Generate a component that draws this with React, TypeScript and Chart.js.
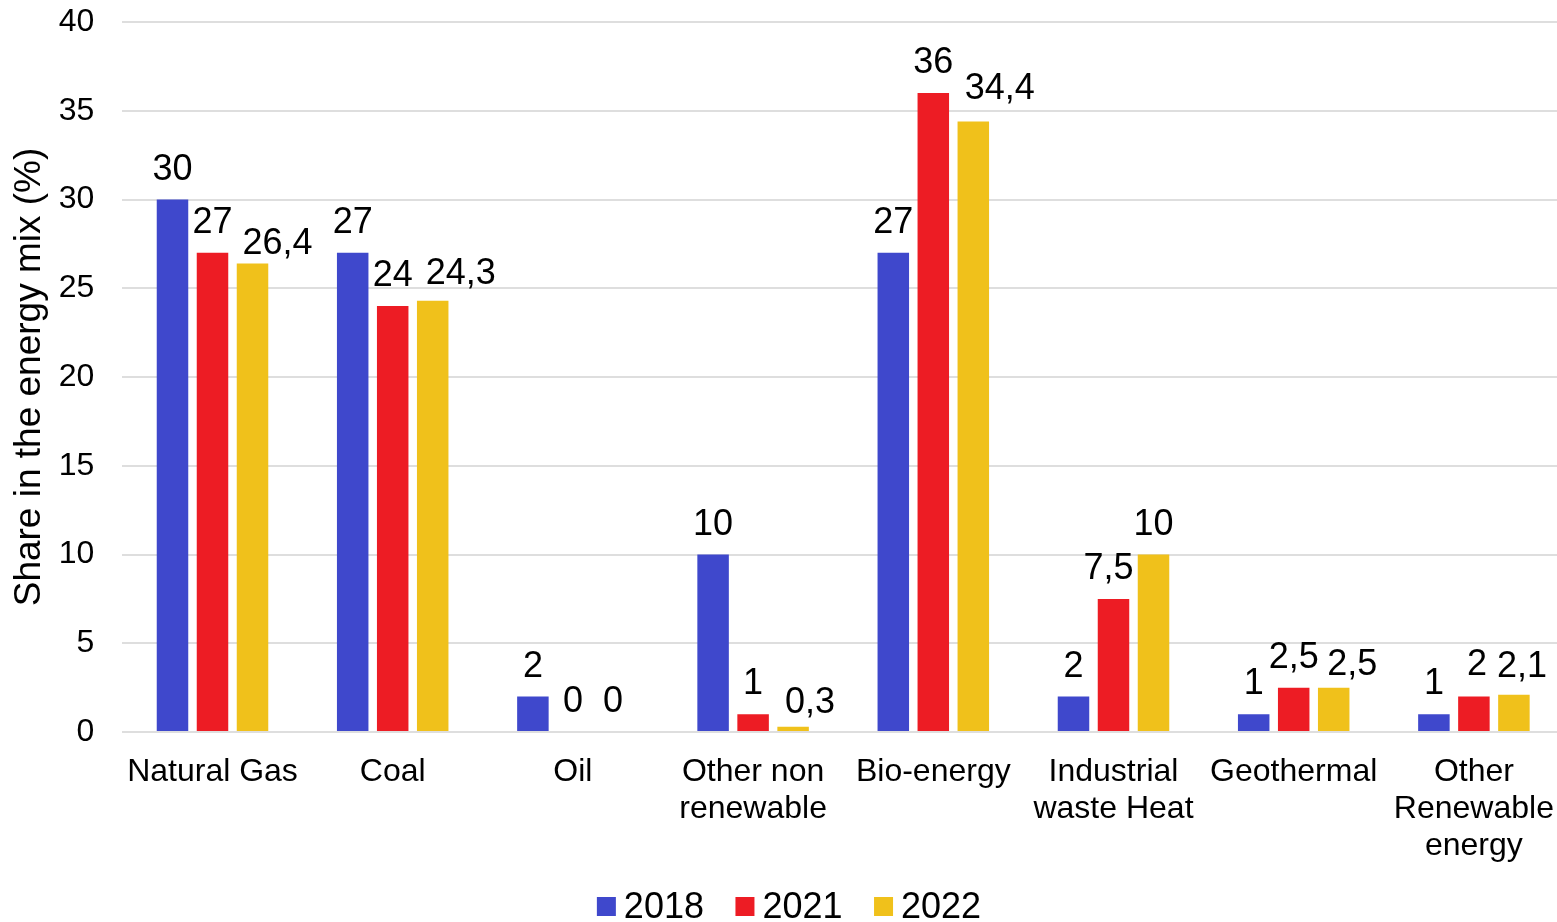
import { useEffect, useRef } from 'react';
import { Chart, registerables } from 'chart.js';

Chart.register(...registerables);

// Energy sources on the category axis (arrays break into several lines)
const categories: (string | string[])[] = [
  'Natural Gas',
  'Coal',
  'Oil',
  ['Other non', 'renewable'],
  'Bio-energy',
  ['Industrial', 'waste Heat'],
  'Geothermal',
  ['Other', 'Renewable', 'energy'],
];

const years = ['2018', '2021', '2022'];

// Share in the energy mix (%)
const share2018 = [30, 27, 2, 10, 27, 2, 1, 1];
const share2021 = [27, 24, 0, 1, 36, 7.5, 2.5, 2];
const share2022 = [26.4, 24.3, 0, 0.3, 34.4, 10, 2.5, 2.1];

const yMin = 0;
const yMax = 40;
const yStep = 5;

const seriesColors = ['#3F48CC', '#ED1C24', '#F0C11B'];

// Hand placement of individual value labels: [dx, dy] in pixels
const labelShift2018: [number, number][] = [
  [0, 0], [0, 0], [0, 0], [0, 0], [0, 0], [0, 0], [0, 0], [0, 0],
];
const labelShift2021: [number, number][] = [
  [0, 0], [0, 0], [0, 0], [0, 0], [0, 0], [-5, 0], [0, 0], [3, -1.5],
];
const labelShift2022: [number, number][] = [
  [25, 11], [28, 3], [0, 0], [17, 6], [26.5, -2], [0, 0], [18.5, 7], [8, 2],
];

const FONT = '"Liberation Sans", Arial, Helvetica, sans-serif';

const formatValue = (v: number) => String(v).replace('.', ',');

const valueLabels = {
  id: 'valueLabels',
  afterDatasetsDraw(chart: Chart) {
    const { ctx } = chart;
    const shifts = [labelShift2018, labelShift2021, labelShift2022];
    ctx.save();
    ctx.font = `36px ${FONT}`;
    ctx.fillStyle = '#000';
    ctx.textAlign = 'center';
    ctx.textBaseline = 'alphabetic';
    chart.data.datasets.forEach((ds, i) => {
      const meta = chart.getDatasetMeta(i);
      meta.data.forEach((el: any, j: number) => {
        const v = ds.data[j] as number;
        const [dx, dy] = shifts[i][j];
        ctx.fillText(formatValue(v), el.x + dx, el.y - 20 + dy);
      });
    });
    ctx.restore();
  },
};

const bottomLegend = {
  id: 'bottomLegend',
  afterDraw(chart: Chart) {
    const { ctx } = chart;
    const box = 19;
    const boxGap = 8;
    const itemGap = 31.5;
    const centerX = 789;
    const baseline = 918;
    ctx.save();
    ctx.font = `36px ${FONT}`;
    ctx.textBaseline = 'alphabetic';
    ctx.textAlign = 'left';
    const widths = chart.data.datasets.map((ds) => ctx.measureText(String(ds.label)).width);
    const total =
      widths.reduce((a, w) => a + box + boxGap + w, 0) + itemGap * (widths.length - 1);
    let x = centerX - total / 2;
    chart.data.datasets.forEach((ds, i) => {
      ctx.fillStyle = ds.backgroundColor as string;
      ctx.fillRect(x, baseline - 21, box, box);
      x += box + boxGap;
      ctx.fillStyle = '#000';
      ctx.fillText(String(ds.label), x, baseline);
      x += widths[i] + itemGap;
    });
    ctx.restore();
  },
};

export default function App() {
  const canvasRef = useRef<HTMLCanvasElement | null>(null);

  useEffect(() => {
    const canvas = canvasRef.current;
    if (!canvas) return;
    Chart.defaults.font.family = FONT;
    Chart.defaults.color = '#000';

    const chart = new Chart(canvas, {
      type: 'bar',
      data: {
        labels: categories,
        datasets: [share2018, share2021, share2022].map((values, i) => ({
          label: years[i],
          data: values,
          backgroundColor: seriesColors[i],
          borderWidth: 0,
          categoryPercentage: 0.666,
          barPercentage: 0.7875,
        })),
      },
      options: {
        responsive: false,
        animation: false,
        devicePixelRatio: 1,
        layout: { padding: { top: 22, right: 16, bottom: 0, left: 0 } },
        plugins: {
          legend: { display: false },
          tooltip: { enabled: false },
        },
        scales: {
          x: {
            grid: { display: false },
            border: { display: false },
            ticks: {
              font: { size: 32, lineHeight: 1.15 },
              color: '#000',
              padding: 14,
              minRotation: 0,
              maxRotation: 0,
              autoSkip: false,
            },
            afterFit: (s: any) => {
              s.height = 190;
            },
          },
          y: {
            min: yMin,
            max: yMax,
            ticks: {
              stepSize: yStep,
              font: { size: 32 },
              color: '#000',
              padding: 28,
            },
            grid: { color: '#dedede', lineWidth: 2, drawTicks: false },
            border: { display: false },
            title: {
              display: true,
              text: 'Share in the energy mix (%)',
              font: { size: 37 },
              color: '#000',
              padding: { top: 8, bottom: 0 },
            },
            afterFit: (s: any) => {
              s.width = 122.4;
              // keep the plot top fixed by the layout padding only
              s.paddingTop = 0;
              s.paddingBottom = 0;
            },
          },
        },
      },
      plugins: [valueLabels, bottomLegend],
    });

    return () => chart.destroy();
  }, []);

  return (
    <div
      style={{
        position: 'fixed',
        left: 0,
        top: 0,
        width: 1557,
        height: 922,
        overflow: 'hidden',
        background: '#fff',
      }}
    >
      <canvas
        ref={canvasRef}
        width={1580}
        height={922}
        style={{ display: 'block', width: 1580, height: 922 }}
      />
    </div>
  );
}
